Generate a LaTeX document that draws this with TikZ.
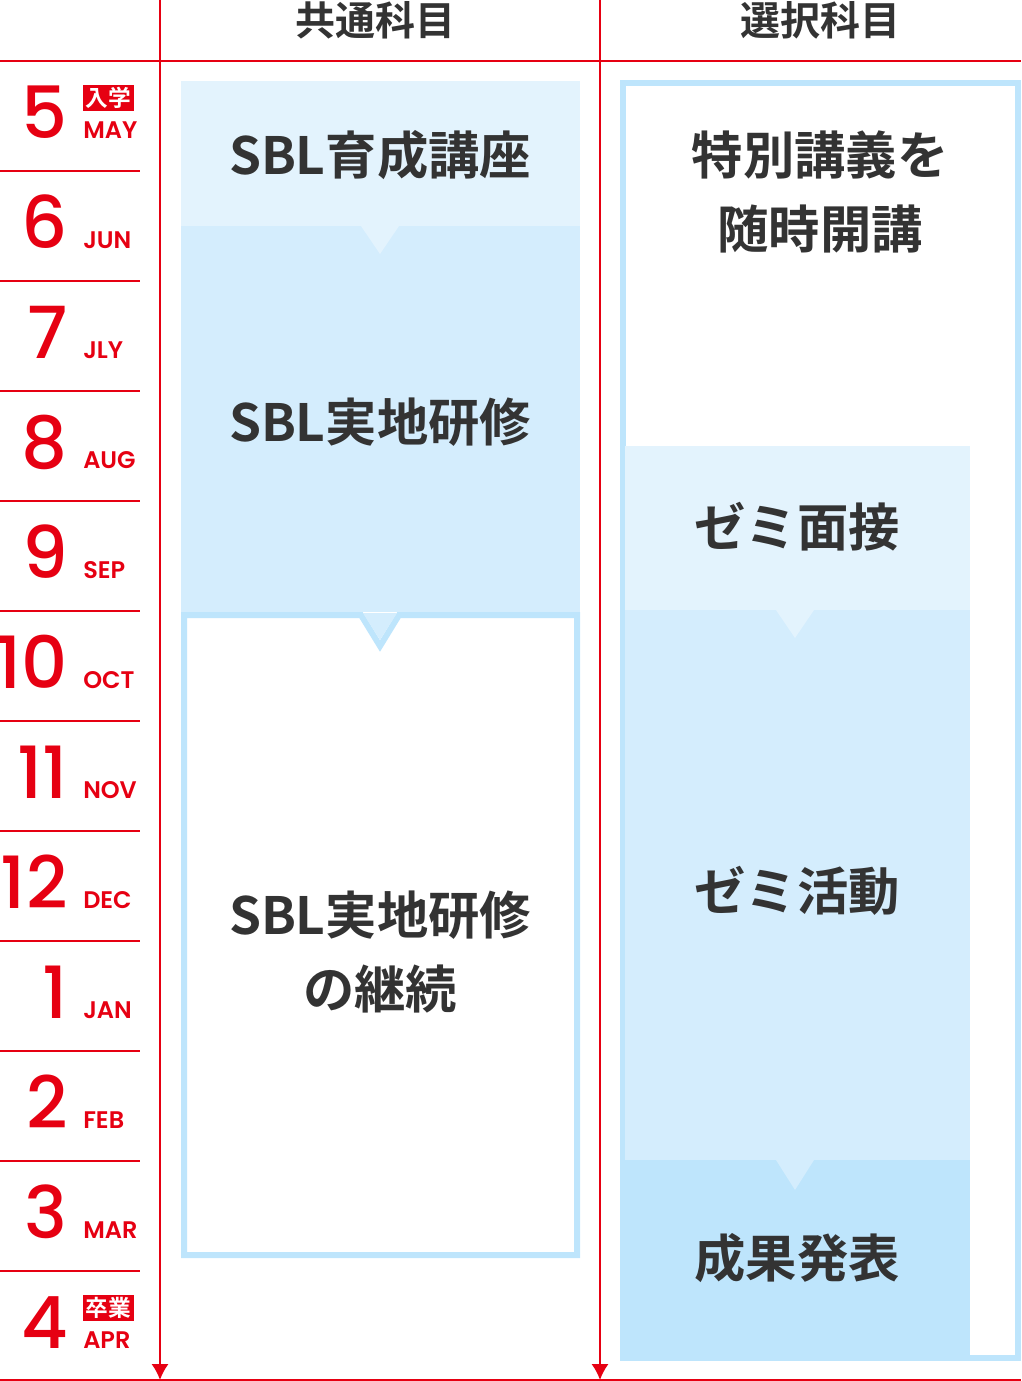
\documentclass[tikz,border=0pt]{standalone}
\usetikzlibrary{arrows.meta}
\usepackage{fontspec}
\setmainfont{Noto Sans CJK JP}[BoldFont=* Bold]
\newfontfamily\numfont{Poppins}[BoldFont=* Medium]
\newfontfamily\labfont{Poppins}[BoldFont=* SemiBold]
\definecolor{myred}{HTML}{E60012}
\definecolor{cA}{HTML}{E3F3FD}
\definecolor{cB}{HTML}{D4EDFD}
\definecolor{cC}{HTML}{BEE5FC}
\definecolor{txt}{HTML}{333333}
\begin{document}
\begin{tikzpicture}[x=0.75pt,y=-0.75pt,
  big/.style={font=\fontsize{38.5}{55}\selectfont\bfseries,text=txt,align=center},
  head/.style={font=\fontsize{30}{34}\selectfont\bfseries,text=txt},
  mnum/.style={font=\numfont\bfseries\fontsize{54}{54}\selectfont,text=myred,anchor=base east,inner xsep=0pt},
  mlab/.style={font=\labfont\bfseries\fontsize{18}{18}\selectfont,text=myred,anchor=base west,inner xsep=0pt},
  badge/.style={fill=myred,text=white,font=\fontsize{17}{17}\selectfont\bfseries,inner xsep=2pt,inner ysep=1.5pt,anchor=south west},
  redl/.style={draw=myred,line width=1.5pt}]
\useasboundingbox (0,0) rectangle (1021,1381);
% left column
\fill[cA] (181,81) rectangle (580,226);
\fill[cB] (181,226) rectangle (580,612);
\fill[cA] (361,226) -- (399,226) -- (380,254) -- cycle;
\draw[cC,line width=4.5pt,fill=white] (184,615) -- (361,615) -- (380,646) -- (399,615) -- (577,615) -- (577,1255) -- (184,1255) -- cycle;
\fill[cB] (363,613) -- (397,613) -- (380,640) -- cycle;
% right column
\draw[cC,line width=4pt] (623,83) rectangle (1018,1358);
\fill[cA] (625,446) rectangle (970,610);
\fill[cB] (625,610) rectangle (970,1160);
\fill[cA] (776,610) -- (814,610) -- (795,638) -- cycle;
\fill[cC] (621,1160) rectangle (970,1360);
\fill[cB] (776,1160) -- (814,1160) -- (795,1190) -- cycle;
% texts
\node[big] (t1) at (380,155) {SBL育成講座};
\node[big] (t2) at (380,422) {SBL実地研修};
\node[big] (t3) at (380,952) {SBL実地研修\\の継続};
\node[big] (t4) at (820,192) {特別講義を\\随時開講};
\node[big] (t5) at (797,527) {ゼミ面接};
\node[big] (t6) at (797,891) {ゼミ活動};
\node[big] (t7) at (797,1258) {成果発表};
\node[head] (h1) at (375,20) {共通科目};
\node[head] (h2) at (820,20) {選択科目};
% grid
\draw[redl] (0,61) -- (1021,61);
\draw[redl] (0,1380) -- (1021,1380);
\draw[redl,-{Latex[length=12pt,width=13pt]}] (160,0) -- (160,1380);
\draw[redl,-{Latex[length=12pt,width=13pt]}] (600,0) -- (600,1380);
\foreach \i in {1,...,11} \draw[redl] (0,61+110*\i) -- (140,61+110*\i);
\foreach \n/\l [count=\i from 0] in {5/MAY,6/JUN,7/JLY,8/AUG,9/SEP,10/OCT,11/NOV,12/DEC,1/JAN,2/FEB,3/MAR,4/APR}{
  \node[mnum] (n\i) at (68,138+110*\i) {\n};
  \node[mlab] (l\i) at (83,138+110*\i) {\l};
}
\node[badge] (b1) at (83,111) {入学};
\node[badge] (b2) at (83,1321) {卒業};
\end{tikzpicture}
\end{document}
